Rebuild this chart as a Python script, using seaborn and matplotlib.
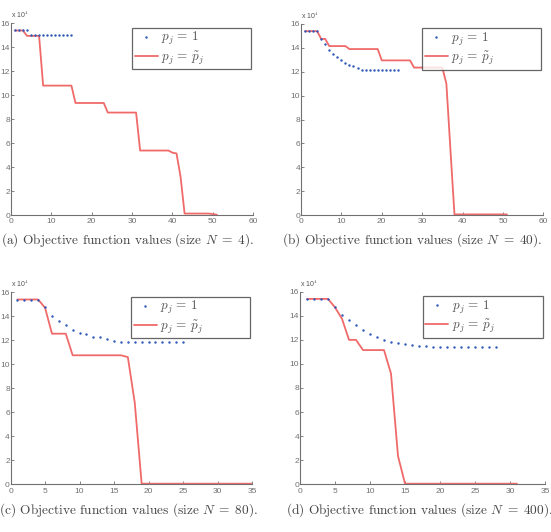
import numpy as np
import pandas as pd
import matplotlib
matplotlib.use("Agg")
import matplotlib.pyplot as plt
import seaborn as sns

# objective values, in units of 10^4
# (a) N = 4
a_p1 = [15.4, 15.4, 15.4, 15.4, 15.05, 15.05, 15.05, 15.05, 15.05, 15.05, 15.05,
        15.05, 15.05, 15.05, 15.05]
a_pt = [15.4, 15.4, 15.4, 14.95, 14.95, 14.95, 14.95, 10.8, 10.8, 10.8, 10.8, 10.8,
        10.8, 10.8, 10.8, 9.35, 9.35, 9.35, 9.35, 9.35, 9.35, 9.35, 9.35, 8.55, 8.55,
        8.55, 8.55, 8.55, 8.55, 8.55, 8.55, 5.38, 5.38, 5.38, 5.38, 5.38, 5.38, 5.38,
        5.38, 5.2, 5.14, 3.2, 0.12, 0.12, 0.12, 0.12, 0.12, 0.12, 0.12, 0.08, 0.02]
# (b) N = 40
b_p1 = [15.4, 15.4, 15.4, 15.4, 14.75, 14.3, 13.8, 13.45, 13.2, 13.0, 12.75, 12.56,
        12.5, 12.3, 12.15, 12.15, 12.15, 12.15, 12.15, 12.15, 12.15, 12.15, 12.15, 12.15]
b_pt = [15.4, 15.4, 15.4, 15.4, 14.75, 14.75, 14.15, 14.15, 14.15, 14.15, 14.15,
        13.9, 13.9, 13.9, 13.9, 13.9, 13.9, 13.9, 13.9, 12.95, 12.95, 12.95, 12.95,
        12.95, 12.95, 12.95, 12.95, 12.35, 12.35, 12.35, 12.35, 12.35, 12.35, 12.35,
        12.35, 11.0, 5.5, 0.05, 0.05, 0.05, 0.05, 0.05, 0.05, 0.05, 0.05, 0.05, 0.05,
        0.05, 0.05, 0.05, 0.05]
# (c) N = 80
c_p1 = [15.4, 15.4, 15.4, 15.4, 14.75, 14.05, 13.6, 13.3, 12.9, 12.6, 12.5, 12.3,
        12.25, 12.08, 11.94, 11.85, 11.85, 11.85, 11.85, 11.85, 11.85, 11.85, 11.85,
        11.85, 11.85]
c_pt = [15.4, 15.4, 15.4, 15.4, 14.7, 12.55, 12.55, 12.55, 10.75, 10.75, 10.75, 10.75,
        10.75, 10.75, 10.75, 10.75, 10.6, 6.8, 0.05, 0.05, 0.05, 0.05, 0.05, 0.05, 0.05,
        0.05, 0.05, 0.05, 0.05, 0.05, 0.05, 0.05, 0.05, 0.05, 0.05]
# (d) N = 400
d_p1 = [15.37, 15.37, 15.37, 15.37, 14.7, 14.1, 13.65, 13.2, 12.85, 12.5, 12.26, 11.98,
        11.8, 11.72, 11.63, 11.56, 11.5, 11.46, 11.43, 11.4, 11.4, 11.4, 11.4, 11.4,
        11.4, 11.4, 11.4, 11.4]
d_pt = [15.4, 15.4, 15.4, 15.4, 14.7, 13.75, 12.0, 12.0, 11.15, 11.15, 11.15, 11.15,
        9.2, 2.35, 0.05, 0.05, 0.05, 0.05, 0.05, 0.05, 0.05, 0.05, 0.05, 0.05, 0.05,
        0.05, 0.05, 0.05, 0.05, 0.05, 0.05]

captions = [r'(a) Objective function values (size $N\;=\;4$).',
            r'(b) Objective function values (size $N\;=\;40$).',
            r'(c) Objective function values (size $N\;=\;80$).',
            r'(d) Objective function values (size $N\;=\;400$).']
xmax = [60, 60, 35, 35]
xstep = [10, 10, 5, 5]

sns.set_style("white")
plt.rcParams['font.family'] = ['Liberation Sans', 'DejaVu Sans']
plt.rcParams['mathtext.fontset'] = 'cm'

blue = '#3058b8'
red = '#f06a6a'
gray = '#707070'

fig = plt.figure(figsize=(5.51, 5.32), dpi=100)
W, H = 551.0, 532.0
# axes boxes in pixels: left, right, top, bottom
boxes = [(10.8, 253.3, 23.3, 215.0), (301.0, 543.3, 24.0, 215.0),
         (10.6, 252.0, 292.3, 484.3), (300.0, 545.0, 291.7, 484.3)]
cap_y = [240, 240, 510, 510]
cap_x = [127, 412, 128, 419]

series = [(a_p1, a_pt), (b_p1, b_pt), (c_p1, c_pt), (d_p1, d_pt)]

for i, (p1, pt) in enumerate(series):
    l, r, t, b = boxes[i]
    ax = fig.add_axes([l / W, 1 - b / H, (r - l) / W, (b - t) / H])
    df1 = pd.DataFrame({'it': np.arange(1, len(p1) + 1), 'val': p1})
    df2 = pd.DataFrame({'it': np.arange(1, len(pt) + 1), 'val': pt})
    sns.lineplot(data=df1, x='it', y='val', ax=ax, color=blue, linestyle='',
                 marker='.', markersize=3.5, markeredgewidth=0,
                 label=r'$p_j\,=\,1$', zorder=3)
    sns.lineplot(data=df2, x='it', y='val', ax=ax, color=red, linewidth=1.3,
                 label=r'$p_j\,=\,\tilde{p}_j$', zorder=2)
    ax.set_xlim(0, xmax[i])
    ax.set_ylim(0, 16)
    ax.set_xticks(np.arange(0, xmax[i] + 1, xstep[i]))
    ax.set_yticks(np.arange(0, 17, 2))
    ax.set_xlabel('')
    ax.set_ylabel('')
    for s in ['top', 'right']:
        ax.spines[s].set_visible(False)
    for s in ['left', 'bottom']:
        ax.spines[s].set_color(gray)
        ax.spines[s].set_linewidth(0.8)
    ax.tick_params(direction='in', length=2.5, width=0.6, colors=gray,
                   labelsize=6, left=True, bottom=True)
    ax.tick_params(axis='x', pad=2.4)
    ax.tick_params(axis='y', pad=0.6)
    ax.text(0.0, 1.015, r'x 10$^4$', transform=ax.transAxes, fontsize=5,
            color='#555555', ha='left', va='bottom')
    leg = ax.legend(loc='upper left', bbox_to_anchor=(0.50, 0.79, 0.49, 0.187),
                    mode='expand', fontsize=9.5, frameon=True, fancybox=False,
                    handlelength=1.75, handletextpad=0.25, labelspacing=0.12,
                    borderpad=0.2, borderaxespad=0)
    leg.get_frame().set_edgecolor('#404040')
    leg.get_frame().set_linewidth(0.9)
    for txt in leg.get_texts():
        txt.set_color('#555555')
    fig.text(cap_x[i] / W, 1 - cap_y[i] / H, captions[i], family='cmr10',
             fontsize=9.6, color='#444444', ha='center', va='center')

fig.savefig('out.png', dpi=100)
